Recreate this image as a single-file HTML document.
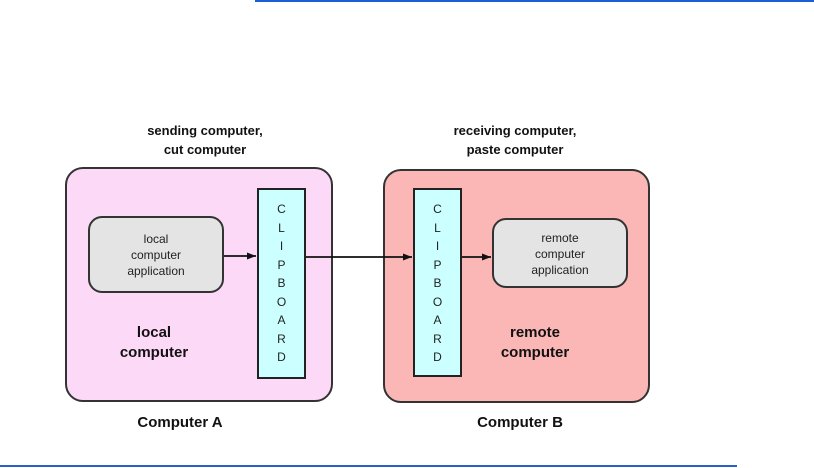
<!DOCTYPE html>
<html><head><style>
html,body{margin:0;padding:0;background:#fff;}
body{width:814px;height:468px;position:relative;overflow:hidden;font-family:"Liberation Sans",Arial,sans-serif;}
.a{position:absolute;box-sizing:border-box;}
.t{position:absolute;text-align:center;font-weight:bold;color:#111;}
.cb{position:absolute;box-sizing:border-box;background:#ccffff;border:2px solid #222;font-size:12px;line-height:18.5px;text-align:center;color:#222;padding-top:10px;}
.app{position:absolute;box-sizing:border-box;background:#e4e4e4;border:2px solid #333;border-radius:14px;font-size:12px;line-height:16px;text-align:center;color:#222;padding-top:13px;}
</style></head><body>
<div class="a" style="left:255px;top:0;width:559px;height:2px;background:#1a5fd6"></div>
<div class="a" style="left:0;top:465px;width:737px;height:2px;background:#2a5fc8"></div>

<div class="t" style="left:105px;top:121px;width:200px;font-size:13px;line-height:19px">sending computer,<br>cut computer</div>
<div class="t" style="left:415px;top:121px;width:200px;font-size:13px;line-height:19px">receiving computer,<br>paste computer</div>

<div class="a" style="left:65px;top:167px;width:268px;height:235px;background:#fdd9f8;border:2px solid #333;border-radius:18px"></div>
<div class="a" style="left:383px;top:169px;width:267px;height:234px;background:#fbb6b6;border:2px solid #333;border-radius:18px"></div>

<div class="app" style="left:88px;top:216px;width:136px;height:77px">local<br>computer<br>application</div>
<div class="app" style="left:492px;top:218px;width:136px;height:70px;padding-top:10px">remote<br>computer<br>application</div>

<div class="cb" style="left:257px;top:188px;width:49px;height:191px">C<br>L<br>I<br>P<br>B<br>O<br>A<br>R<br>D</div>
<div class="cb" style="left:413px;top:188px;width:49px;height:189px">C<br>L<br>I<br>P<br>B<br>O<br>A<br>R<br>D</div>

<svg class="a" style="left:0;top:0" width="814" height="468">
<defs><marker id="m" markerWidth="10" markerHeight="10" refX="9" refY="5" orient="auto" markerUnits="userSpaceOnUse"><path d="M0,1.5 L9,5 L0,8.5 z" fill="#111"/></marker></defs>
<line x1="224" y1="256" x2="256" y2="256" stroke="#111" stroke-width="1.8" marker-end="url(#m)"/>
<line x1="306" y1="257" x2="412" y2="257" stroke="#111" stroke-width="1.8" marker-end="url(#m)"/>
<line x1="462" y1="257" x2="491" y2="257" stroke="#111" stroke-width="1.8" marker-end="url(#m)"/>
</svg>

<div class="t" style="left:104px;top:323px;width:100px;font-size:15px;line-height:20px">local<br>computer</div>
<div class="t" style="left:480px;top:323px;width:110px;font-size:15px;line-height:20px">remote<br>computer</div>
<div class="t" style="left:100px;top:414px;width:160px;font-size:15px">Computer A</div>
<div class="t" style="left:440px;top:414px;width:160px;font-size:15px">Computer B</div>
</body></html>
